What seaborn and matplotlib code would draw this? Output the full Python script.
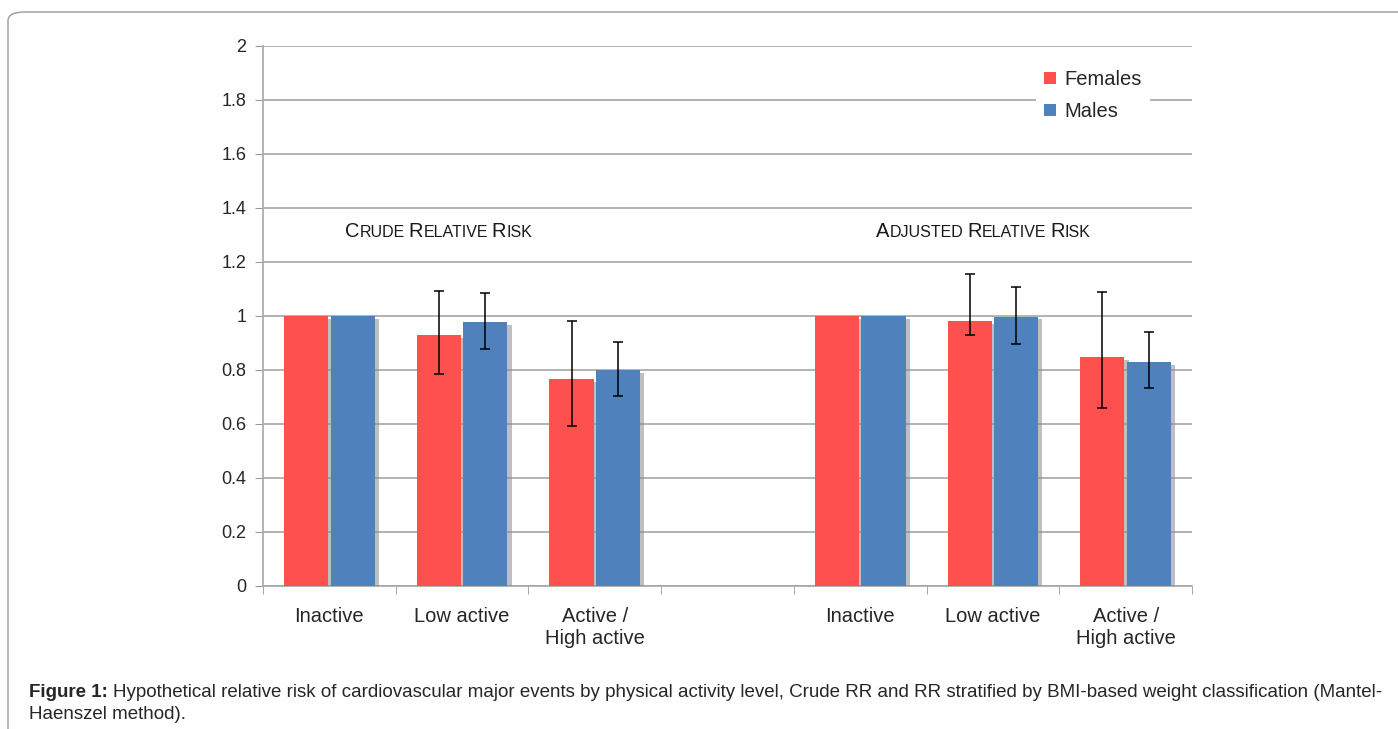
import numpy as np
import pandas as pd
import matplotlib
matplotlib.use("Agg")
import matplotlib.pyplot as plt
import matplotlib.patheffects as pe
from matplotlib.patches import FancyBboxPatch
from matplotlib.transforms import offset_copy
import seaborn as sns

# data
slots = [0, 1, 2, 4, 5, 6]           # slot 3 is the empty gap between the two panels
tick_labels = ["Inactive", "Low active", "Active /\nHigh active", "",
               "Inactive", "Low active", "Active /\nHigh active"]
females = [1.0, 0.928, 0.767, 1.0, 0.981, 0.847]
females_lo = [1.0, 0.784, 0.594, 1.0, 0.931, 0.658]
females_hi = [1.0, 1.091, 0.980, 1.0, 1.157, 1.088]
males = [1.0, 0.978, 0.801, 1.0, 0.998, 0.828]
males_lo = [1.0, 0.877, 0.705, 1.0, 0.895, 0.732]
males_hi = [1.0, 1.084, 0.905, 1.0, 1.107, 0.940]
sexes = ["Females", "Males"]
colors = ["#FF5050", "#4F81BD"]

df = pd.concat([
    pd.DataFrame({"slot": slots, "rr": females, "lo": females_lo, "hi": females_hi, "sex": "Females"}),
    pd.DataFrame({"slot": slots, "rr": males, "lo": males_lo, "hi": males_hi, "sex": "Males"}),
], ignore_index=True)

sns.set_style("white")
plt.rcParams["font.family"] = ["Liberation Sans", "DejaVu Sans"]

fig = plt.figure(figsize=(13.98, 7.29), dpi=100)
ax = fig.add_axes([263 / 1398, 143 / 729, 929 / 1398, 540 / 729])

sns.barplot(data=df, x="slot", y="rr", hue="sex", order=list(range(7)), hue_order=sexes,
            palette=colors, width=0.7, gap=0.05, errorbar=None, saturation=1,
            edgecolor="none", ax=ax, zorder=3)

shadow = [pe.SimplePatchShadow(offset=(3, -2), shadow_rgbFace="#8c8c8c", alpha=0.55), pe.Normal()]
for cont, sex in zip(ax.containers, sexes):
    sub = df[df["sex"] == sex].set_index("slot")
    for bar in cont:
        bar.set_path_effects(shadow)
        xc = bar.get_x() + bar.get_width() / 2
        row = sub.loc[int(round(xc))]
        if row["hi"] > row["lo"]:
            ax.errorbar(xc, row["rr"], yerr=[[row["rr"] - row["lo"]], [row["hi"] - row["rr"]]],
                        fmt="none", ecolor="black", elinewidth=1.1, capsize=3.5, capthick=1.1,
                        zorder=5)

ax.set_ylim(0, 2)
ax.set_xlim(-0.5, 6.5)
ax.set_yticks(np.arange(0, 2.01, 0.2))
ax.set_yticklabels(["0", "0.2", "0.4", "0.6", "0.8", "1", "1.2", "1.4", "1.6", "1.8", "2"])
ax.set_xticks(range(7))
ax.set_xticklabels(tick_labels, fontsize=14.5, linespacing=1.2)
ax.set_xticks(np.arange(-0.5, 7, 1), minor=True)
ax.tick_params(axis="x", which="major", length=0, pad=15)
ax.tick_params(axis="x", which="minor", length=6, color="#999999", direction="out", bottom=True)
ax.tick_params(axis="y", length=6, color="#999999", direction="out", left=True, labelsize=13, pad=6)
ax.set_xlabel("")
ax.set_ylabel("")
ax.grid(axis="y", color="#a6a6a6", linewidth=1.2, zorder=0)
ax.set_axisbelow(True)
for side in ["top", "right"]:
    ax.spines[side].set_visible(False)
for side in ["left", "bottom"]:
    ax.spines[side].set_color("#a6a6a6")
    ax.spines[side].set_linewidth(1.2)

sns.move_legend(ax, "upper left", bbox_to_anchor=(773 / 929, 524 / 540), title=None,
                frameon=True, facecolor="white", edgecolor="none", framealpha=1,
                fontsize=14.5, handlelength=0.6, handleheight=0.6, handletextpad=0.4,
                labelspacing=0.65, borderpad=0.4, borderaxespad=0, fancybox=False)

renderer = fig.canvas.get_renderer()


def small_caps(x, y, text, big=14.5, small=11.5):
    dx = 0.0
    for k, word in enumerate(text.split()):
        if k:
            dx += 0.25 * small * fig.dpi / 72
        for piece, size in [(word[0].upper(), big), (word[1:].upper(), small)]:
            t = ax.text(x, y, piece, fontsize=size, va="baseline", ha="left", color="#1a1a1a",
                        transform=offset_copy(ax.transData, fig=fig, x=dx, y=0, units="dots"))
            dx += t.get_window_extent(renderer).width


small_caps(0.118, 1.293, "Crude Relative Risk")
small_caps(4.119, 1.293, "Adjusted Relative Risk")

# caption
cap_size = 13.5
t = fig.text(29 / 1398, 1 - 697 / 729, "Figure 1:", fontsize=cap_size, fontweight="bold",
             va="baseline", ha="left")
w = t.get_window_extent(renderer).width
fig.text((29 + w + 5) / 1398, 1 - 697 / 729,
         "Hypothetical relative risk of cardiovascular major events by physical activity level, "
         "Crude RR and RR stratified by BMI-based weight classification (Mantel-",
         fontsize=cap_size, va="baseline", ha="left")
fig.text(29 / 1398, 1 - 719 / 729, "Haenszel method).", fontsize=cap_size, va="baseline", ha="left")

# rounded frame around the figure panel
fig.patches.append(FancyBboxPatch((8 / 1398, -0.05), 1.05, 0.05 + 717 / 729,
                                  boxstyle="round,pad=0,rounding_size=0.012",
                                  transform=fig.transFigure, facecolor="none",
                                  edgecolor="#9a9a9a", linewidth=1.0))

fig.savefig("out.png", dpi=100)
